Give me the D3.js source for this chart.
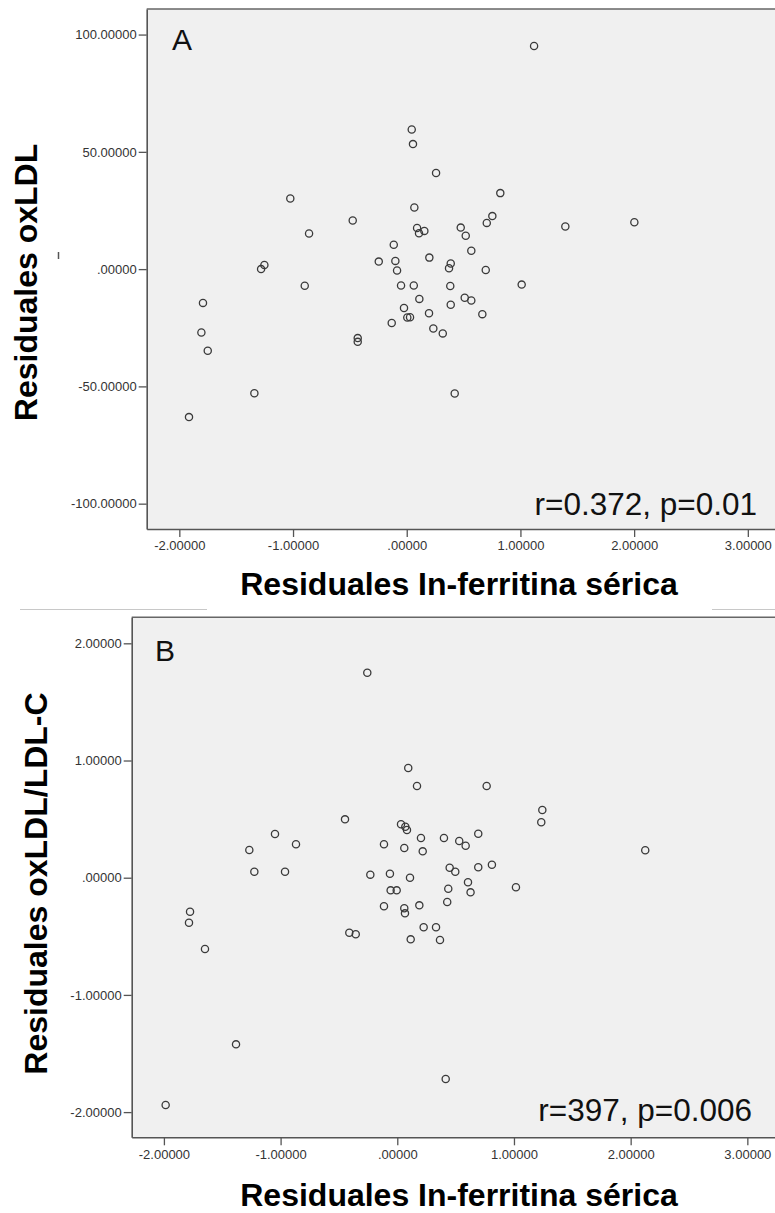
<!DOCTYPE html>
<html>
<head>
<meta charset="utf-8">
<script src="https://cdn.jsdelivr.net/npm/d3@7/dist/d3.min.js"></script>
<style>
  body { margin: 0; background: #fff; }
  text { font-family: Arial, "Liberation Sans", sans-serif; }
</style>
</head>
<body>
<div id="chart-area"></div>
<script>
// ---- data ----
// Panel A: residuals ln-ferritin (x) vs residuals oxLDL (y)
var aX = [1.12, 0.044, 0.055, 0.258, 0.823, 0.067, 0.753, 0.704, 1.395, 2.002,
          0.091, 0.108, 0.155, 0.475, 0.519, -0.114, 0.568, 0.199, -0.246, -0.10,
          -0.085, 0.387, 0.372, 0.695, -0.05, 0.062, 0.383, 1.011, 0.111, 0.387,
          0.51, 0.568, -0.024, 0.196, 0.665, -0.132, 0.005, 0.029, 0.234, 0.317,
          0.422, -1.024, -0.475, -0.859, -1.281, -1.252, -0.897, -1.792, -1.806, -1.75,
          -0.431, -0.431, -1.34, -1.915];
var aY = [95.1, 59.5, 53.3, 41.0, 32.4, 26.3, 22.6, 19.7, 18.2, 20.0,
          17.5, 15.3, 16.3, 17.7, 14.2, 10.4, 7.8, 4.9, 3.2, 3.5,
          -0.6, 2.4, 0.4, -0.4, -7.0, -7.0, -7.2, -6.6, -12.7, -15.2,
          -12.2, -13.4, -16.6, -18.8, -19.2, -23.0, -20.6, -20.5, -25.3, -27.4,
          -53.0, 30.1, 20.7, 15.2, 0.0, 1.8, -7.1, -14.4, -27.0, -34.8,
          -29.4, -31.0, -52.9, -63.1];

// Panel B: residuals ln-ferritin (x) vs residuals oxLDL/LDL-C (y)
var bX = [-0.257, -0.448, -1.048, -1.268, -0.868, -1.225, -0.962, -0.114, -0.231, -0.063,
          -0.057, -0.005, 0.094, 0.169, 0.766, 1.243, 1.234, 2.125, 0.032, 0.069,
          0.083, 0.203, 0.4, 0.531, 0.586, 0.694, 0.06, 0.218, 0.109, 0.449,
          0.497, 0.694, 0.811, 0.606, 0.628, 0.437, 1.017, -0.114, 0.06, 0.066,
          0.189, 0.428, 0.226, 0.332, 0.115, 0.366, 0.415, -1.776, -1.785, -1.648,
          -0.411, -0.356, -1.382, -1.985];
var bY = [1.749, 0.498, 0.373, 0.236, 0.285, 0.051, 0.051, 0.285, 0.026, 0.034,
          -0.108, -0.108, 0.936, 0.782, 0.782, 0.578, 0.473, 0.234, 0.456, 0.435,
          0.407, 0.339, 0.339, 0.313, 0.273, 0.375, 0.253, 0.225, 0.0, 0.085,
          0.051, 0.089, 0.111, -0.039, -0.125, -0.094, -0.082, -0.244, -0.261, -0.304,
          -0.236, -0.207, -0.423, -0.423, -0.526, -0.532, -1.718, -0.29, -0.384, -0.608,
          -0.469, -0.483, -1.422, -1.94];

// ticks
var xTicks = [-2, -1, 0, 1, 2, 3];
var yTicksA = [-100, -50, 0, 50, 100];
var yTicksB = [-2, -1, 0, 1, 2];

// texts
var xTitle = "Residuales In-ferritina sérica";
var yTitleA = "Residuales oxLDL";
var yTitleB = "Residuales oxLDL/LDL-C";
var statA = "r=0.372, p=0.01";
var statB = "r=397, p=0.006";

// canvas size
const svgWidth = 775,
      svgHeight = 1213;

var svg = d3.select("#chart-area").append("svg")
    .attr("width", svgWidth)
    .attr("height", svgHeight);

// SPSS style numbers: ".00000", "1.00000", "-50.00000" (plain hyphen minus)
var f5 = d3.formatLocale({ decimal: ".", thousands: ",", grouping: [3], currency: ["", ""], minus: "-" })
    .format(".5f");
function spssFormat(v){
    var s = f5(v);
    if (s === "0.00000") return ".00000";
    return s;
}

// separator lines left over from the figure montage
svg.append("line").attr("x1", 20).attr("x2", 207).attr("y1", 609.5).attr("y2", 609.5)
    .attr("stroke", "#c8c8c8").attr("stroke-width", 1);
svg.append("line").attr("x1", 712).attr("x2", 775).attr("y1", 609.5).attr("y2", 609.5)
    .attr("stroke", "#c8c8c8").attr("stroke-width", 1);

function drawPanel(p){
    var x = d3.scaleLinear().domain(p.xDomain).range([p.left, svgWidth]);
    var y = d3.scaleLinear().domain(p.yDomain).range([p.bottom, p.top]);

    // plot background
    svg.append("rect")
        .attr("x", p.left)
        .attr("y", p.top)
        .attr("width", svgWidth - p.left + 5)
        .attr("height", p.bottom - p.top)
        .attr("fill", "#f0f0f0");

    // top frame line
    svg.append("line")
        .attr("x1", p.left).attr("x2", svgWidth)
        .attr("y1", p.top).attr("y2", p.top)
        .attr("stroke", "#666").attr("stroke-width", 1.5);

    // axes
    var xAxisCall = d3.axisBottom(x)
        .tickValues(xTicks)
        .tickSize(8)
        .tickSizeOuter(0)
        .tickPadding(4)
        .tickFormat(spssFormat);
    var xAxis = svg.append("g")
        .attr("transform", "translate(0," + p.bottom + ")")
        .call(xAxisCall);

    var yAxisCall = d3.axisLeft(y)
        .tickValues(p.yTicks)
        .tickSize(8)
        .tickSizeOuter(0)
        .tickPadding(2)
        .tickFormat(spssFormat);
    var yAxis = svg.append("g")
        .attr("transform", "translate(" + p.left + ",0)")
        .call(yAxisCall);

    [xAxis, yAxis].forEach(function(a){
        a.select(".domain").attr("stroke", "#555").attr("stroke-width", 1.6);
        a.selectAll(".tick line").attr("stroke", "#555").attr("stroke-width", 1.3);
        a.selectAll(".tick text")
            .attr("fill", "#333")
            .attr("font-size", "13px")
            .attr("font-family", "Arial, 'Liberation Sans', sans-serif");
    });

    // points
    svg.append("g").selectAll("circle")
        .data(d3.range(p.xs.length))
        .enter().append("circle")
        .attr("cx", function(i){ return x(p.xs[i]); })
        .attr("cy", function(i){ return y(p.ys[i]); })
        .attr("r", 3.6)
        .attr("fill", "none")
        .attr("stroke", "#3a3a3a")
        .attr("stroke-width", 1.3);

    // panel letter
    svg.append("text")
        .attr("x", p.letterX)
        .attr("y", p.letterY)
        .attr("font-size", "30px")
        .attr("fill", "#111")
        .text(p.letter);

    // statistic
    svg.append("text")
        .attr("x", p.statX)
        .attr("y", p.statY)
        .attr("text-anchor", "end")
        .attr("font-size", "31.5px")
        .attr("fill", "#111")
        .text(p.stat);

    // axis titles
    svg.append("text")
        .attr("x", 459)
        .attr("y", p.xTitleY)
        .attr("text-anchor", "middle")
        .attr("font-size", "32px")
        .attr("font-weight", "bold")
        .attr("fill", "#000")
        .text(xTitle);

    svg.append("text")
        .attr("transform", "translate(" + p.yTitleX + "," + p.yTitleCy + ") rotate(-90)")
        .attr("text-anchor", "middle")
        .attr("font-size", "32px")
        .attr("font-weight", "bold")
        .attr("fill", "#000")
        .text(p.yTitle);
}

drawPanel({
    xs: aX, ys: aY, yTicks: yTicksA,
    left: 146.7, top: 9, bottom: 529,
    xDomain: [-2.287, 3.239], yDomain: [-110.8, 110.9],
    letter: "A", letterX: 172, letterY: 50,
    stat: statA, statX: 757, statY: 515,
    xTitleY: 595,
    yTitle: yTitleA, yTitleX: 36.7, yTitleCy: 282.5
});

drawPanel({
    xs: bX, ys: bY, yTicks: yTicksB,
    left: 131.7, top: 617.3, bottom: 1137.3,
    xDomain: [-2.276, 3.237], yDomain: [-2.215, 2.222],
    letter: "B", letterX: 155, letterY: 661,
    stat: statB, statX: 752, statY: 1120.7,
    xTitleY: 1206,
    yTitle: yTitleB, yTitleX: 46.7, yTitleCy: 883.5
});

// small stray mark next to the y title of panel A
svg.append("line")
    .attr("x1", 58.5).attr("x2", 58.5)
    .attr("y1", 252).attr("y2", 259)
    .attr("stroke", "#555").attr("stroke-width", 1.5);
</script>
</body>
</html>
